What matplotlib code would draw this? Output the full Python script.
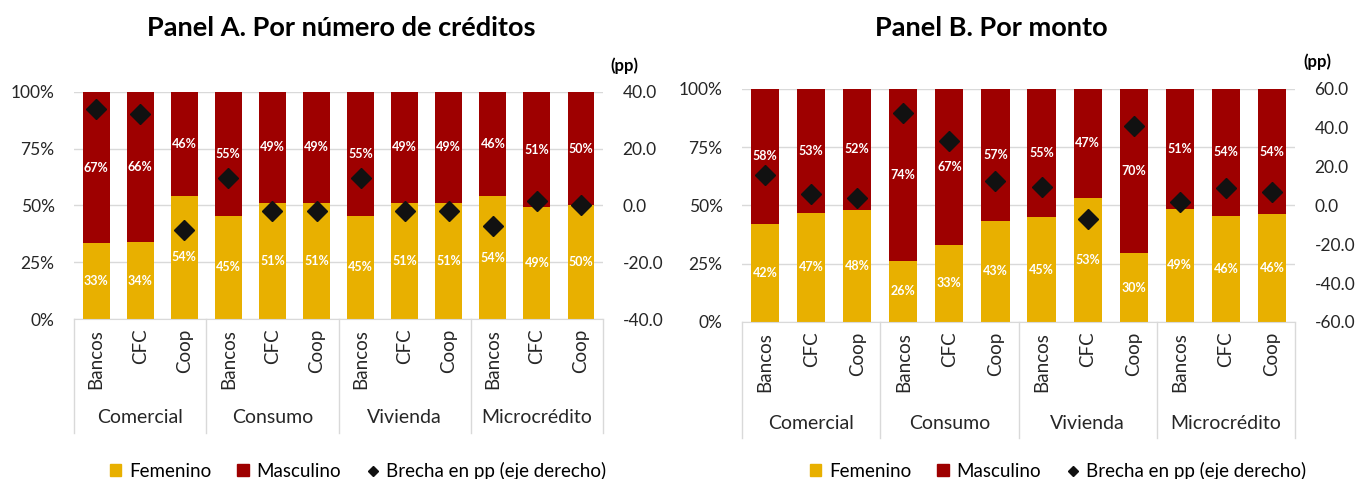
import numpy as np
import matplotlib
matplotlib.use("Agg")
import matplotlib.pyplot as plt
from matplotlib.patches import Patch
from matplotlib.lines import Line2D
import matplotlib.transforms as mtransforms

plt.rcParams['font.family'] = ['Lato', 'DejaVu Sans']

# datos
grupos = ['Comercial', 'Consumo', 'Vivienda', 'Microcrédito']
entidades = ['Bancos', 'CFC', 'Coop']

fem_a = [33.4, 33.9, 54.4, 45.4, 51.2, 51.3, 45.4, 51.2, 51.3, 54.1, 49.3, 50.1]
masc_a = [66.6, 66.1, 45.6, 54.6, 48.8, 48.7, 54.6, 48.8, 48.7, 45.9, 50.7, 49.9]
brecha_a = [33.9, 32.4, -8.8, 9.7, -1.9, -2.1, 9.7, -1.9, -2.1, -7.2, 1.5, 0.2]

fem_b = [42.1, 46.8, 48.1, 26.2, 33.2, 43.4, 44.9, 53.4, 29.6, 48.6, 45.6, 46.2]
masc_b = [57.9, 53.2, 51.9, 73.8, 66.8, 56.6, 55.1, 46.6, 70.4, 51.4, 54.4, 53.8]
brecha_b = [15.5, 6.1, 4.0, 47.8, 33.0, 12.8, 9.4, -6.9, 40.9, 2.0, 8.8, 7.1]

AMARILLO = '#E8B000'
ROJO = '#9E0000'
GRIS = '#D9D9D9'
TEXTO = '#262626'


def panel(fig, rect, fem, masc, brecha, ylim2, yticks2):
    ax = fig.add_axes(rect)
    x = np.arange(len(fem))
    ax.bar(x, fem, width=0.61, color=AMARILLO, zorder=2)
    ax.bar(x, masc, bottom=fem, width=0.61, color=ROJO, zorder=2)
    for xi, f, m in zip(x, fem, masc):
        ax.text(xi, f / 2, f'{f:.0f}%', ha='center', va='center', color='white',
                fontsize=9, fontweight='bold', zorder=3)
        ax.text(xi, f + m / 2, f'{m:.0f}%', ha='center', va='center', color='white',
                fontsize=9, fontweight='bold', zorder=3)
    ax.set_xlim(-0.5, len(fem) - 0.5)
    ax.set_ylim(0, 100)
    ax.set_yticks([0, 25, 50, 75, 100])
    ax.set_yticklabels(['0%', '25%', '50%', '75%', '100%'])
    ax.yaxis.grid(True, color=GRIS, linewidth=1, zorder=0)
    ax.set_xticks(x)
    ax.set_xticklabels(entidades * len(grupos), rotation=90)
    ax.tick_params(axis='x', length=0, pad=7, labelsize=13.5, colors=TEXTO)
    ax.tick_params(axis='y', length=0, pad=14, labelsize=12.5, colors=TEXTO)
    for s in ['top', 'left', 'right']:
        ax.spines[s].set_visible(False)
    ax.spines['bottom'].set_color(GRIS)

    # separadores y grupos
    trans = mtransforms.blended_transform_factory(ax.transData, ax.transAxes)
    for sx in [-0.5, 2.5, 5.5, 8.5, 11.5]:
        ax.plot([sx, sx], [0, -0.5], color=GRIS, lw=1, transform=trans, clip_on=False)
    for i, g in enumerate(grupos):
        ax.text(3 * i + 1, -0.435, g, ha='center', va='center', fontsize=14,
                color=TEXTO, transform=trans)

    ax2 = ax.twinx()
    ax2.plot(x, brecha, 'D', color='#111111', markersize=10, zorder=4)
    ax2.set_ylim(*ylim2)
    ax2.set_yticks(yticks2)
    ax2.set_yticklabels([f'{v:.1f}' for v in yticks2])
    ax2.tick_params(axis='y', length=0, pad=14, labelsize=12.5, colors=TEXTO)
    for s in ['top', 'left', 'right', 'bottom']:
        ax2.spines[s].set_visible(False)
    ax2.text(1.04, 1.115, '(pp)', transform=ax.transAxes, ha='center', va='center',
             fontsize=12, fontweight='bold')
    return ax


fig = plt.figure(figsize=(13.61, 4.79), dpi=100)

panel(fig, [0.0544, 0.334, 0.3887, 0.474], fem_a, masc_a, brecha_a,
      (-40, 40), [-40, -20, 0, 20, 40])
panel(fig, [0.5452, 0.3278, 0.4063, 0.4864], fem_b, masc_b, brecha_b,
      (-60, 60), [-60, -40, -20, 0, 20, 40, 60])

fig.text(341 / 1361, 1 - 28 / 479, 'Panel A. Por número de créditos', ha='center',
         va='center', fontsize=19.5, fontweight='bold')
fig.text(991 / 1361, 1 - 28 / 479, 'Panel B. Por monto', ha='center',
         va='center', fontsize=19.5, fontweight='bold')

handles = [Patch(color=AMARILLO, label='Femenino'),
           Patch(color=ROJO, label='Masculino'),
           Line2D([], [], marker='D', color='#111111', linestyle='none',
                  markersize=5, label='Brecha en pp (eje derecho)')]
for cx in [358 / 1361, 1058 / 1361]:
    fig.legend(handles=handles, loc='center', bbox_to_anchor=(cx, 1 - 471 / 479),
               ncol=3, frameon=False, fontsize=13.5, handlelength=0.6,
               handleheight=0.6, handletextpad=0.4, columnspacing=1.4)

fig.savefig('out.png', dpi=100)
